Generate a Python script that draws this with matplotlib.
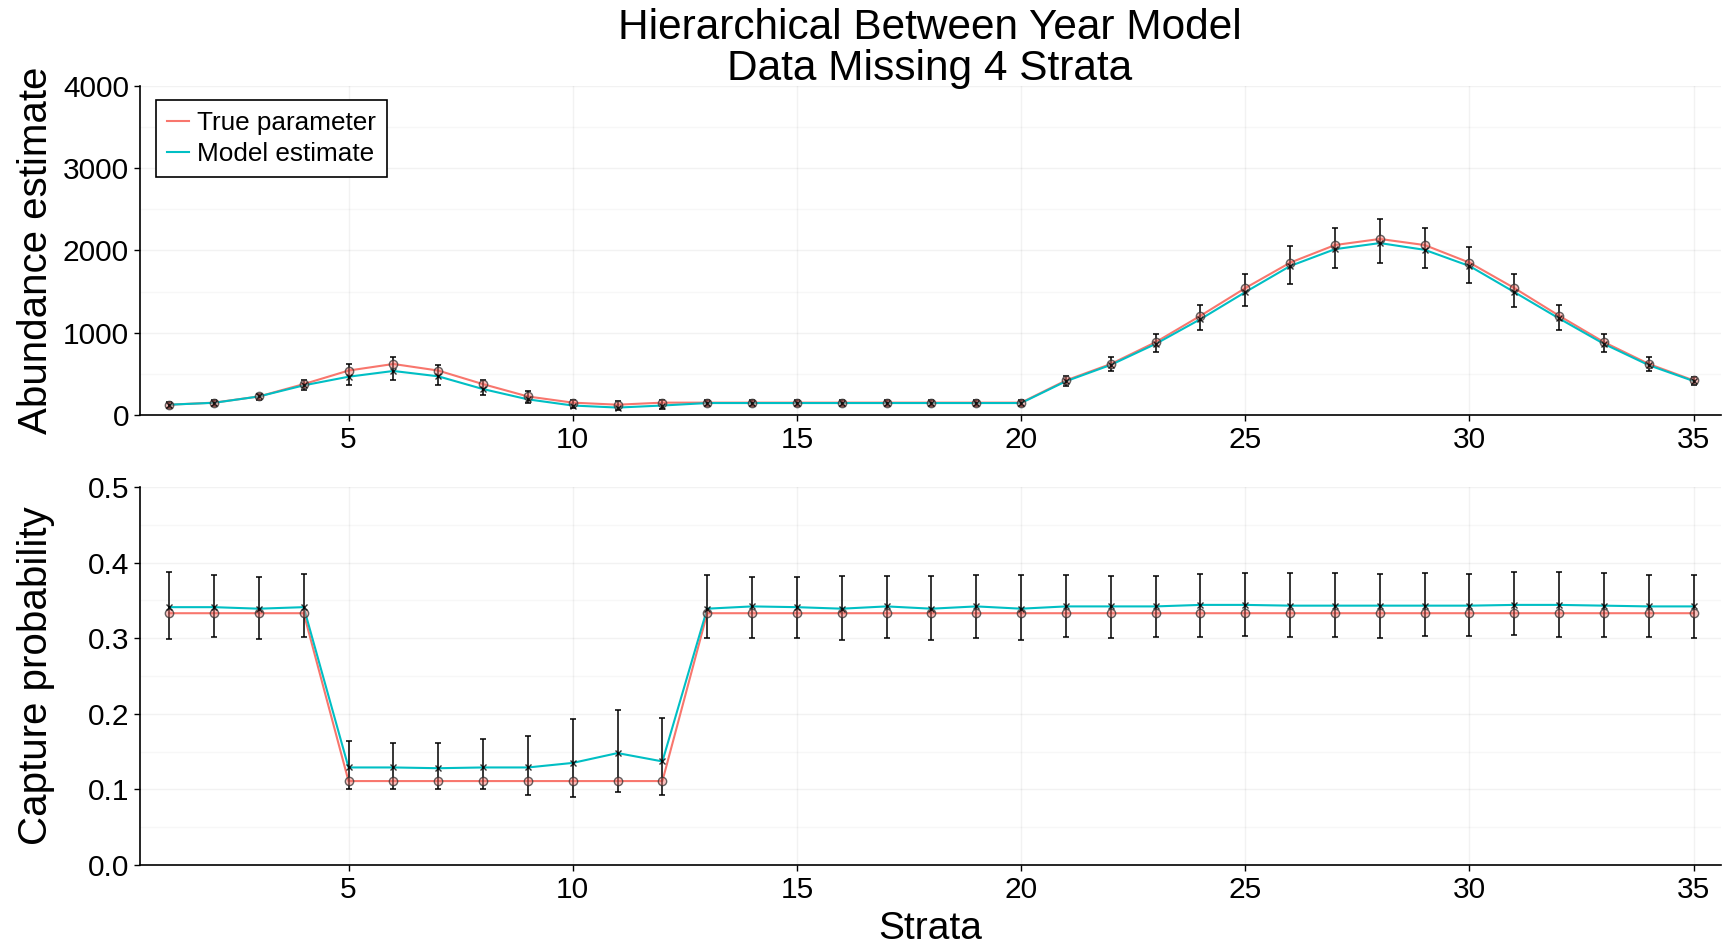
import matplotlib.pyplot as plt
from matplotlib.ticker import MultipleLocator
import numpy as np

plt.rcParams['font.family'] = ['Liberation Sans', 'DejaVu Sans']

strata = list(range(1, 36))

# abundance: true values, model estimates and interval bounds
true_abund = [125, 150, 225, 375, 540, 620, 540, 375, 225, 150, 125, 150,
              150, 150, 150, 150, 150, 150, 150, 150, 420, 620, 885, 1206,
              1543, 1852, 2066, 2140, 2066, 1852, 1543, 1206, 885, 620, 420]
est_abund = [125, 148, 225, 360, 465, 535, 470, 315, 190, 115, 90, 115,
             145, 145, 145, 145, 145, 145, 145, 145, 410, 609, 864, 1165,
             1494, 1811, 2016, 2090, 2008, 1811, 1494, 1173, 864, 605, 412]
abund_lo = [90, 111, 185, 309, 362, 420, 362, 247, 140, 82, 62, 74,
            107, 107, 107, 107, 107, 107, 107, 107, 350, 535, 761, 1029,
            1325, 1597, 1782, 1852, 1782, 1605, 1317, 1029, 761, 535, 362]
abund_hi = [156, 177, 259, 420, 625, 700, 609, 424, 288, 185, 165, 181,
            177, 177, 177, 177, 177, 177, 177, 177, 469, 700, 988, 1337,
            1708, 2049, 2276, 2387, 2276, 2045, 1708, 1337, 988, 700, 465]

# capture probability
true_p = [0.333, 0.333, 0.333, 0.333, 0.111, 0.111, 0.111, 0.111, 0.111,
          0.111, 0.111, 0.111, 0.333, 0.333, 0.333, 0.333, 0.333, 0.333,
          0.333, 0.333, 0.333, 0.333, 0.333, 0.333, 0.333, 0.333, 0.333,
          0.333, 0.333, 0.333, 0.333, 0.333, 0.333, 0.333, 0.333]
est_p = [0.341, 0.341, 0.339, 0.341, 0.129, 0.129, 0.128, 0.129, 0.129,
         0.135, 0.148, 0.137, 0.339, 0.342, 0.341, 0.339, 0.342, 0.339,
         0.342, 0.339, 0.342, 0.342, 0.342, 0.344, 0.344, 0.343, 0.343,
         0.343, 0.343, 0.343, 0.344, 0.344, 0.343, 0.342, 0.342]
p_lo = [0.299, 0.301, 0.299, 0.301, 0.100, 0.101, 0.101, 0.100, 0.093,
        0.090, 0.097, 0.092, 0.300, 0.300, 0.300, 0.298, 0.300, 0.298,
        0.300, 0.297, 0.301, 0.300, 0.301, 0.302, 0.303, 0.301, 0.302,
        0.300, 0.303, 0.303, 0.304, 0.301, 0.302, 0.302, 0.300]
p_hi = [0.387, 0.383, 0.381, 0.385, 0.164, 0.161, 0.161, 0.166, 0.171,
        0.193, 0.205, 0.195, 0.384, 0.381, 0.381, 0.382, 0.382, 0.382,
        0.384, 0.384, 0.384, 0.382, 0.382, 0.385, 0.386, 0.386, 0.386,
        0.385, 0.386, 0.385, 0.388, 0.387, 0.386, 0.383, 0.384]

RED = '#F8766D'
CYAN = '#00BFC4'


def draw_panel(ax, true_v, est_v, lo, hi):
    est_v = np.array(est_v)
    yerr = [est_v - np.array(lo), np.array(hi) - est_v]
    ax.plot(strata, true_v, color=RED, lw=1.5, label='True parameter', zorder=2)
    ax.plot(strata, est_v, color=CYAN, lw=1.5, label='Model estimate', zorder=2)
    ax.errorbar(strata, est_v, yerr=yerr, fmt='none', ecolor='black',
                elinewidth=1.3, capsize=2.5, capthick=1.3, alpha=0.85, zorder=3)
    ax.plot(strata, true_v, 'o', ms=6, mfc=(0.97, 0.46, 0.43, 0.45),
            mec=(0.2, 0.2, 0.2, 0.75), mew=1.0, zorder=4)
    ax.plot(strata, est_v, 'x', ms=5, color='black', mew=1.0, alpha=0.8, zorder=4)

    ax.set_xlim(0.35, 35.6)
    ax.set_xticks([5, 10, 15, 20, 25, 30, 35])
    for s in ['top', 'right']:
        ax.spines[s].set_visible(False)
    for s in ['left', 'bottom']:
        ax.spines[s].set_linewidth(1.2)
    ax.tick_params(axis='both', direction='out', length=4, width=1.0,
                   labelsize=21.5, pad=4)
    ax.grid(which='major', color='black', alpha=0.05, lw=1.0)
    ax.grid(which='minor', axis='y', color='black', alpha=0.03, lw=1.0)
    ax.tick_params(which='minor', length=0)
    ax.set_axisbelow(True)


fig = plt.figure(figsize=(17.35, 9.47), dpi=100)
ax1 = fig.add_axes([0.0807, 0.5618, 0.911, 0.3474])
ax2 = fig.add_axes([0.0807, 0.0866, 0.911, 0.3992])

draw_panel(ax1, true_abund, est_abund, abund_lo, abund_hi)
ax1.set_ylim(0, 4000)
ax1.yaxis.set_major_locator(MultipleLocator(1000))
ax1.yaxis.set_minor_locator(MultipleLocator(500))
ax1.set_ylabel('Abundance estimate', fontsize=29)
ax1.yaxis.set_label_coords(-0.054, 0.5)

leg = ax1.legend(loc='upper left', bbox_to_anchor=(0.0101, 0.957),
                 fontsize=18.8, frameon=True, fancybox=False, handlelength=0.85,
                 handletextpad=0.3, borderpad=0.42, labelspacing=0.28,
                 borderaxespad=0)
leg.get_frame().set_edgecolor('black')
leg.get_frame().set_linewidth(1.2)
leg.get_frame().set_alpha(1.0)

draw_panel(ax2, true_p, est_p, p_lo, p_hi)
ax2.set_ylim(0, 0.5)
ax2.yaxis.set_major_locator(MultipleLocator(0.1))
ax2.yaxis.set_minor_locator(MultipleLocator(0.05))
ax2.set_ylabel('Capture probability', fontsize=29)
ax2.yaxis.set_label_coords(-0.054, 0.5)
ax2.set_xlabel('Strata', fontsize=28)
ax2.xaxis.set_label_coords(0.5, -0.122)

fig.text(0.536, 0.949, 'Hierarchical Between Year Model\nData Missing 4 Strata',
         ha='center', va='center', fontsize=30.5, linespacing=1.05)

fig.savefig('out.png', dpi=100)
